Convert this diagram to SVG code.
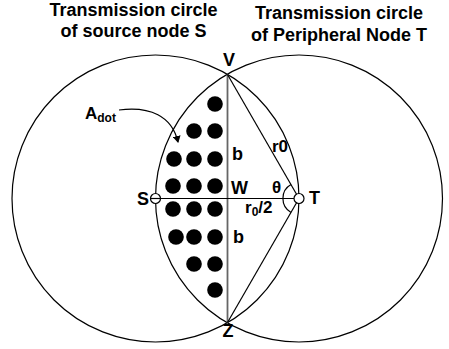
<svg xmlns="http://www.w3.org/2000/svg" width="449" height="349" viewBox="0 0 449 349">
<style>
text{font-family:"Liberation Sans",Arial,sans-serif;font-weight:bold;fill:#000}
.t{font-size:18px;text-anchor:middle}
.l{font-size:18px}
.s{font-size:17px}
.c{fill:none;stroke:#000;stroke-width:1.2}
.ln{stroke:#000;stroke-width:1.2;fill:none}
.d{fill:#000}
</style>
<defs>
<marker id="ah" markerWidth="8" markerHeight="8" refX="6" refY="4" orient="auto" markerUnits="userSpaceOnUse">
<path d="M0,0 L7,4 L0,8 z" fill="#000"/>
</marker>
</defs>
<g id="titles">
<text class="t" x="133.5" y="16">Transmission circle</text>
<text class="t" x="133.5" y="37">of source node S</text>
<text class="t" x="339" y="19">Transmission circle</text>
<text class="t" x="339" y="41">of Peripheral Node T</text>
</g>
<g id="circleS"><circle class="c" cx="155.5" cy="198.5" r="143.5"/></g>
<g id="circleT"><circle class="c" cx="299" cy="198.5" r="143.5"/></g>
<g id="connectors">
<line x1="227.5" y1="74.5" x2="227.5" y2="322.5" stroke="#666" stroke-width="1.8"/>
<line class="ln" x1="227.5" y1="74.5" x2="299" y2="198.5"/>
<line class="ln" x1="227.5" y1="322.5" x2="299" y2="198.5"/>
<line class="ln" x1="155.5" y1="198.5" x2="299" y2="198.5"/>
<path class="ln" d="M291,184.6 A16,16 0 0 0 291,212.4"/>
<path class="ln" d="M119,110 C150,106 172,116 178,142" marker-end="url(#ah)"/>
</g>
<g id="nodeS">
<circle cx="155.5" cy="198.5" r="5" fill="#fff" stroke="#000" stroke-width="1.2"/>
<line class="ln" x1="150.5" y1="198.5" x2="160.5" y2="198.5"/>
<text class="l" x="137" y="205">S</text>
</g>
<g id="nodeT">
<circle cx="299" cy="198.5" r="5" fill="#fff" stroke="#000" stroke-width="1.2"/>
<text class="l" x="309" y="204">T</text>
</g>
<g id="nodeV"><text class="l" x="229" y="66" text-anchor="middle">V</text></g>
<g id="nodeZ"><text class="l" x="228" y="337" text-anchor="middle">Z</text></g>
<g id="nodeW"><text class="l" x="231" y="194">W</text></g>
<g id="labels">
<text class="l" x="232" y="160">b</text>
<text class="l" x="233" y="243">b</text>
<text class="s" x="272" y="152">r0</text>
<text class="s" x="272" y="193">θ</text>
<text class="s" x="245" y="213">r<tspan font-size="12" dy="3">0</tspan><tspan dy="-3">/2</tspan></text>
<text x="85" y="119" font-size="17">A<tspan font-size="12" dy="3">dot</tspan></text>
</g>
<g id="dots" class="d">
<circle cx="215" cy="104" r="7.8"/>
<circle cx="194" cy="131" r="7.8"/><circle cx="215" cy="131" r="7.8"/>
<circle cx="174" cy="159" r="7.8"/><circle cx="194" cy="159" r="7.8"/><circle cx="215" cy="159" r="7.8"/>
<circle cx="173" cy="186" r="7.8"/><circle cx="194" cy="186" r="7.8"/><circle cx="215" cy="186" r="7.8"/>
<circle cx="173" cy="209" r="7.8"/><circle cx="194" cy="209" r="7.8"/><circle cx="215" cy="209" r="7.8"/>
<circle cx="176" cy="237" r="7.8"/><circle cx="194" cy="237" r="7.8"/><circle cx="215" cy="237" r="7.8"/>
<circle cx="194" cy="264" r="7.8"/><circle cx="215" cy="264" r="7.8"/>
<circle cx="215" cy="290" r="7.8"/>
</g>
</svg>
